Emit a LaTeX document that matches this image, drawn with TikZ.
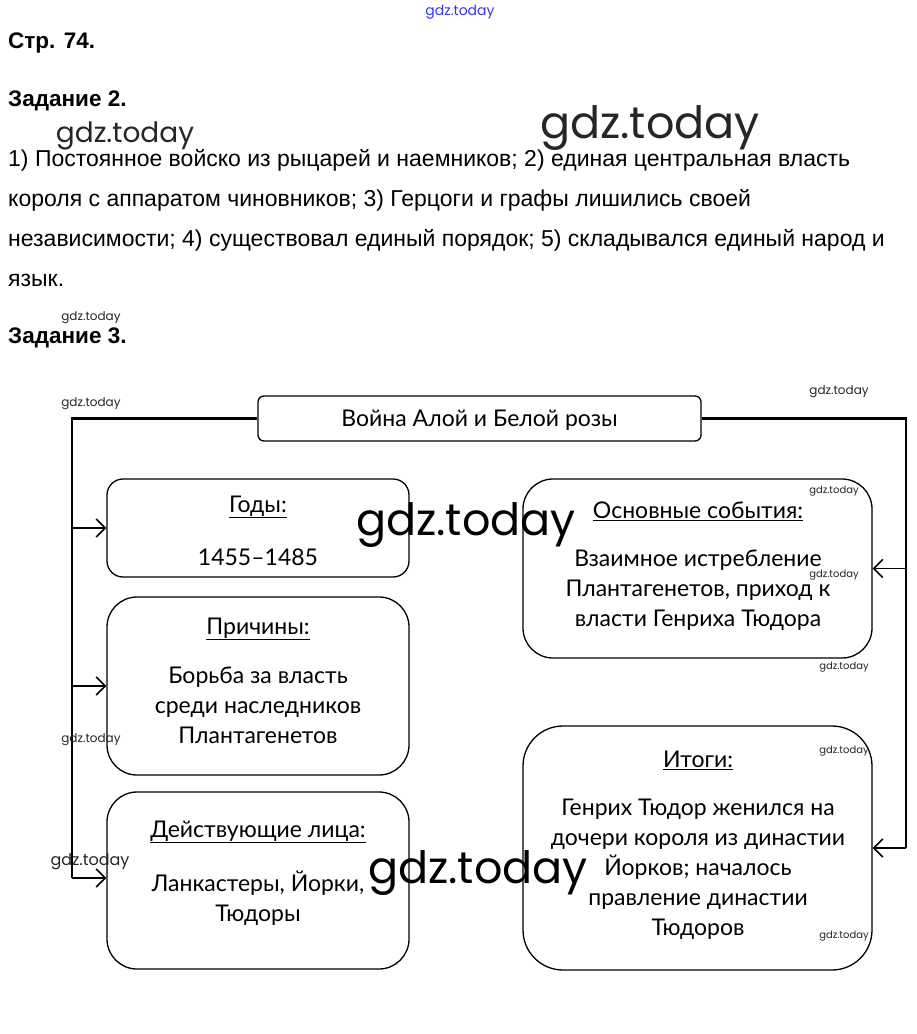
\documentclass[tikz,border=0pt]{standalone}
\usepackage{fontspec}
\setmainfont{Liberation Sans}
\newfontfamily\boxfont{Lato}
\newfontfamily\wmfont{Poppins}
\usetikzlibrary{arrows.meta}
\tikzset{
  x=1pt, y=-1pt,
  box/.style={draw, line width=1.3pt, minimum width=#1, inner sep=0pt},
  btxt/.style={font=\boxfont\fontsize{23}{30}\selectfont, align=center, inner sep=0pt},
  head/.style={font=\bfseries\fontsize{22.5}{26}\selectfont, anchor=west, inner sep=0pt},
  para/.style={font=\fontsize{23}{26}\selectfont, anchor=west, inner sep=0pt},
  trunk/.style={line width=2.6pt},
  arr/.style={line width=1.6pt, -{Straight Barb[length=9pt,width=18pt,line width=1.6pt]}},
  wm/.style={font=\wmfont\fontsize{#1}{#1}\selectfont, inner sep=0pt, text=black!85},
}
\begin{document}
\begin{tikzpicture}
\useasboundingbox (0,0) rectangle (917,1034);
\fill[white] (0,0) rectangle (917,1034);

% header text
\node[wm=14, text=blue!80] (wm0) at (460,12) {gdz.today};
\node[head] (p74) at (8,43) {Стр. 74.};
\node[head] (z2) at (8,101) {Задание 2.};
\node[para] (l1) at (8,160) {1) Постоянное войско из рыцарей и наемников; 2) единая центральная власть};
\node[para] (l2) at (8,200) {короля с аппаратом чиновников; 3) Герцоги и графы лишились своей};
\node[para] (l3) at (8,240) {независимости; 4) существовал единый порядок; 5) складывался единый народ и};
\node[para] (l4) at (8,280) {язык.};
\node[head] (z3) at (8,338) {Задание 3.};

% boxes
\node[box=443pt, minimum height=45pt, rounded corners=6pt] (title) at (479.5,418.5) {};
\node[btxt] (titletxt) at (479.5,420) {Война Алой и Белой розы};

\node[box=302pt, minimum height=98pt, rounded corners=16pt] (years) at (258,528) {};
\node[box=302pt, minimum height=178pt, rounded corners=30pt] (causes) at (258,686) {};
\node[box=302pt, minimum height=177pt, rounded corners=30pt] (actors) at (258,880.5) {};
\node[box=349pt, minimum height=179pt, rounded corners=30pt] (events) at (697.5,568.5) {};
\node[box=349pt, minimum height=244pt, rounded corners=40pt] (results) at (697.5,848) {};

% box texts
\node[btxt] (yh) at (258,507) {\underline{Годы:}};
\node[btxt] (yb) at (258,557) {1455–1485};
\node[btxt] (ch) at (258,629) {\underline{Причины:}};
\node[btxt, anchor=north] (cb) at (258,667) {Борьба за власть\\среди наследников\\Плантагенетов};
\node[btxt] (ah) at (258,832) {\underline{Действующие лица:}};
\node[btxt, anchor=north] (ab) at (258,871) {Ланкастеры, Йорки,\\Тюдоры};
\node[btxt] (eh) at (698,511) {\underline{Основные события:}};
\node[btxt, anchor=north] (eb) at (698,550) {Взаимное истребление\\Плантагенетов, приход к\\власти Генриха Тюдора};
\node[btxt] (rh) at (698,760) {\underline{Итоги:}};
\node[btxt, anchor=north] (rb) at (698,799) {Генрих Тюдор женился на\\дочери короля из династии\\Йорков; началось\\правление династии\\Тюдоров};

% connectors
\coordinate (lt) at (72,418.5);
\coordinate (lb) at (72,878);
\coordinate (rt) at (906,418.5);
\draw[trunk] (title.west) -- (lt) -- (lb);
\draw[trunk] (title.east) -- (rt) -- (rt |- results.east);
\draw[arr] (lt |- years.west) -- (years.west);
\draw[arr] (lt |- causes.west) -- (causes.west);
\draw[arr] (lb) -- (lb -| actors.west);
\draw[arr] (rt |- events.east) -- (events.east);
\draw[arr] (rt |- results.east) -- (results.east);

% watermarks
\node[wm=28] (wm1) at (125,136) {gdz.today};
\node[wm=44.5] (wm2) at (650,128) {gdz.today};
\node[wm=12] (wm3) at (91,318) {gdz.today};
\node[wm=12] (wm4) at (91,404) {gdz.today};
\node[wm=12] (wm5) at (839,392) {gdz.today};
\node[wm=10] (wm6) at (834,491) {gdz.today};
\node[wm=10] (wm7) at (834,575) {gdz.today};
\node[wm=10] (wm8) at (844,667) {gdz.today};
\node[wm=10] (wm9) at (844,751) {gdz.today};
\node[wm=10] (wm10) at (844,936) {gdz.today};
\node[wm=12] (wm11) at (91,740) {gdz.today};
\node[wm=16] (wm12) at (90,862) {gdz.today};
\node[wm=44.5, text=black] (wm13) at (466,525) {gdz.today};
\node[wm=44.5, text=black] (wm14) at (478,873) {gdz.today};
\end{tikzpicture}
\end{document}
